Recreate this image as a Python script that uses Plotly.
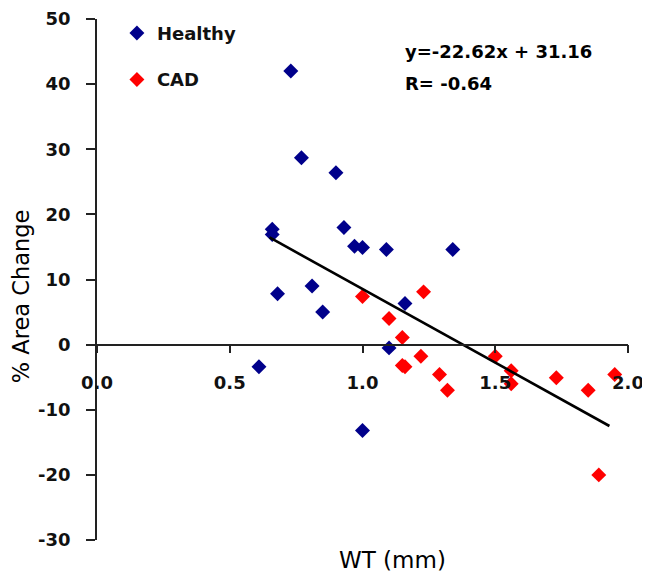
import plotly.graph_objects as go

# Healthy group
healthy_wt = [0.73, 0.77, 0.90, 0.66, 0.66, 0.93, 0.97, 1.00, 1.09, 1.34,
              0.68, 0.81, 0.85, 0.61, 1.00, 1.16, 1.10]
healthy_area = [42.0, 28.7, 26.4, 17.7, 16.9, 18.0, 15.1, 14.9, 14.6, 14.6,
                7.8, 9.0, 5.0, -3.4, -13.2, 6.3, -0.5]

# CAD group
cad_wt = [1.00, 1.23, 1.10, 1.15, 1.15, 1.16, 1.22, 1.29, 1.32, 1.50,
          1.56, 1.56, 1.73, 1.85, 1.95, 1.89]
cad_area = [7.4, 8.1, 4.0, 1.1, -3.2, -3.4, -1.8, -4.6, -7.0, -1.8,
            -4.0, -6.0, -5.1, -7.0, -4.6, -20.0]

# Regression line (from chart annotation)
slope = -22.62
intercept = 31.16
fit_x = [0.65, 1.93]
fit_y = [slope * v + intercept for v in fit_x]

x_ticks = [0.0, 0.5, 1.0, 1.5, 2.0]
y_ticks = [-30, -20, -10, 0, 10, 20, 30, 40, 50]
y_tick_text = [str(v) for v in y_ticks]

BLUE = "#00008B"
RED = "#FF0000"
FONT = "DejaVu Sans"

fig = go.Figure()
fig.add_trace(go.Scatter(
    x=healthy_wt, y=healthy_area, mode="markers", name="Healthy",
    legendgroup="h",
    marker=dict(symbol="diamond", size=11.5, color=BLUE),
))
fig.add_trace(go.Scatter(
    x=cad_wt, y=cad_area, mode="markers", name="CAD",
    legendgroup="c",
    marker=dict(symbol="diamond", size=11.5, color=RED),
))
fig.add_trace(go.Scatter(
    x=fit_x, y=fit_y, mode="lines", showlegend=False,
    line=dict(color="black", width=2.6),
))

fig.update_layout(
    width=642, height=575,
    margin=dict(l=89, r=22, t=11, b=43, autoexpand=False),
    paper_bgcolor="white", plot_bgcolor="white",
    font=dict(family=FONT, color="black"),
    showlegend=True,
    legend=dict(
        x=0.0375, y=1.008, xanchor="left", yanchor="top",
        font=dict(family=FONT, size=18, weight="bold", color="#111"),
        traceorder="grouped", tracegroupgap=20,
        bgcolor="rgba(0,0,0,0)",
    ),
    xaxis=dict(
        range=[0, 2], tickvals=x_ticks, tickformat=".1f",
        showline=True, linecolor="#222", linewidth=1.5,
        ticks="outside", ticklen=8, tickwidth=1.5, tickcolor="#222",
        showgrid=False, zeroline=False, automargin=False,
        anchor="free", position=0.375,
        ticklabelstandoff=14,
        tickfont=dict(family=FONT, size=18, weight="bold", color="#111"),
    ),
    yaxis=dict(
        range=[-30, 50], tickvals=y_ticks, ticktext=y_tick_text,
        showline=True, linecolor="#222", linewidth=1.5,
        ticks="outside", ticklen=9, tickwidth=1.5, tickcolor="#222",
        showgrid=False, zeroline=False, automargin=False,
        ticklabelstandoff=12,
        tickfont=dict(family=FONT, size=18, weight="bold", color="#111"),
    ),
    annotations=[
        dict(text="y=-22.62x + 31.16", xref="paper", yref="paper",
             x=0.576, y=0.938, xanchor="left", yanchor="middle",
             showarrow=False,
             font=dict(family=FONT, size=18, weight="bold", color="black")),
        dict(text="R= -0.64", xref="paper", yref="paper",
             x=0.576, y=0.877, xanchor="left", yanchor="middle",
             showarrow=False,
             font=dict(family=FONT, size=18, weight="bold", color="black")),
        dict(text="% Area Change", xref="paper", yref="paper",
             x=-0.143, y=0.468, xanchor="center", yanchor="middle",
             textangle=-90, showarrow=False,
             font=dict(family=FONT, size=22.5, color="black")),
        dict(text="WT (mm)", xref="paper", yref="paper",
             x=0.556, y=-0.038, xanchor="center", yanchor="middle",
             showarrow=False,
             font=dict(family=FONT, size=23, color="black")),
    ],
)

fig.write_html("out.html")
